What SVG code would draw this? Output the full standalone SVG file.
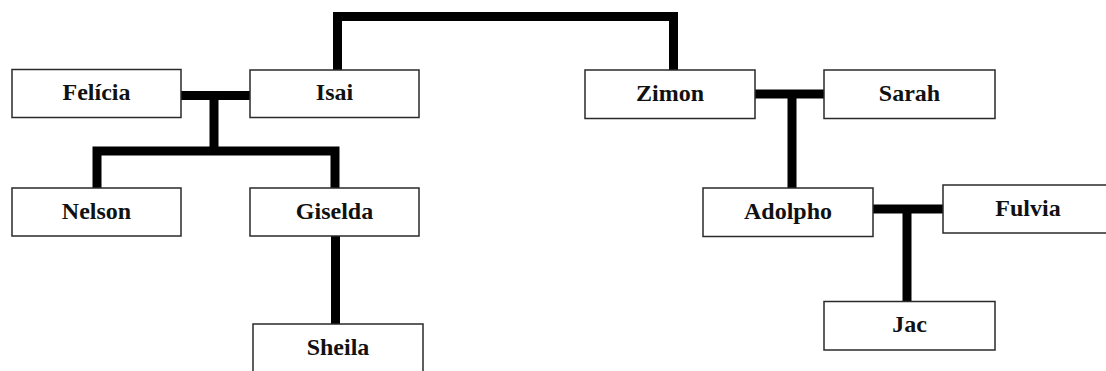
<svg xmlns="http://www.w3.org/2000/svg" width="1106" height="371" viewBox="0 0 1106 371">
<style>
.box{fill:#fff;stroke:#2a2a2a;stroke-width:1.5}
.lbl{font-family:"Liberation Serif","Times New Roman",serif;font-weight:bold;font-size:24px;fill:#111;text-anchor:middle}
.ln{fill:none;stroke:#000;stroke-width:9;stroke-linejoin:miter;stroke-linecap:butt}
</style>
<rect width="1106" height="371" fill="#fff"/>
<g id="connectors">
<path class="ln" d="M337.5,70 V16.5 H673.5 V70"/>
<path class="ln" d="M181,95.5 H250"/>
<path class="ln" d="M214,95.5 V151 M97,188 V151 H335 V188"/>
<path class="ln" d="M335.5,236 V324"/>
<path class="ln" d="M755,94 H824"/>
<path class="ln" d="M792,94 V188"/>
<path class="ln" d="M873,209 H943"/>
<path class="ln" d="M907,209 V301"/>
</g>
<g id="felicia"><rect class="box" x="12" y="69.5" width="169" height="48"/><text class="lbl" x="96.5" y="100">Felícia</text></g>
<g id="isai"><rect class="box" x="250" y="70" width="169" height="47.5"/><text class="lbl" x="334.5" y="100">Isai</text></g>
<g id="nelson"><rect class="box" x="12" y="188" width="169" height="48"/><text class="lbl" x="96.5" y="219">Nelson</text></g>
<g id="giselda"><rect class="box" x="250" y="188" width="169" height="48"/><text class="lbl" x="334.5" y="219">Giselda</text></g>
<g id="sheila"><rect class="box" x="253" y="324" width="170" height="60"/><text class="lbl" x="338" y="355">Sheila</text></g>
<g id="zimon"><rect class="box" x="585" y="70" width="170" height="48.5"/><text class="lbl" x="670" y="101">Zimon</text></g>
<g id="sarah"><rect class="box" x="824" y="70" width="171" height="48.5"/><text class="lbl" x="909.5" y="101">Sarah</text></g>
<g id="adolpho"><rect class="box" x="703" y="188" width="170" height="48.5"/><text class="lbl" x="788" y="219">Adolpho</text></g>
<g id="fulvia"><rect class="box" x="943" y="185" width="170" height="48"/><text class="lbl" x="1028" y="216">Fulvia</text></g>
<g id="jac"><rect class="box" x="824" y="301.5" width="171" height="48.5"/><text class="lbl" x="909.5" y="332">Jac</text></g>
</svg>
